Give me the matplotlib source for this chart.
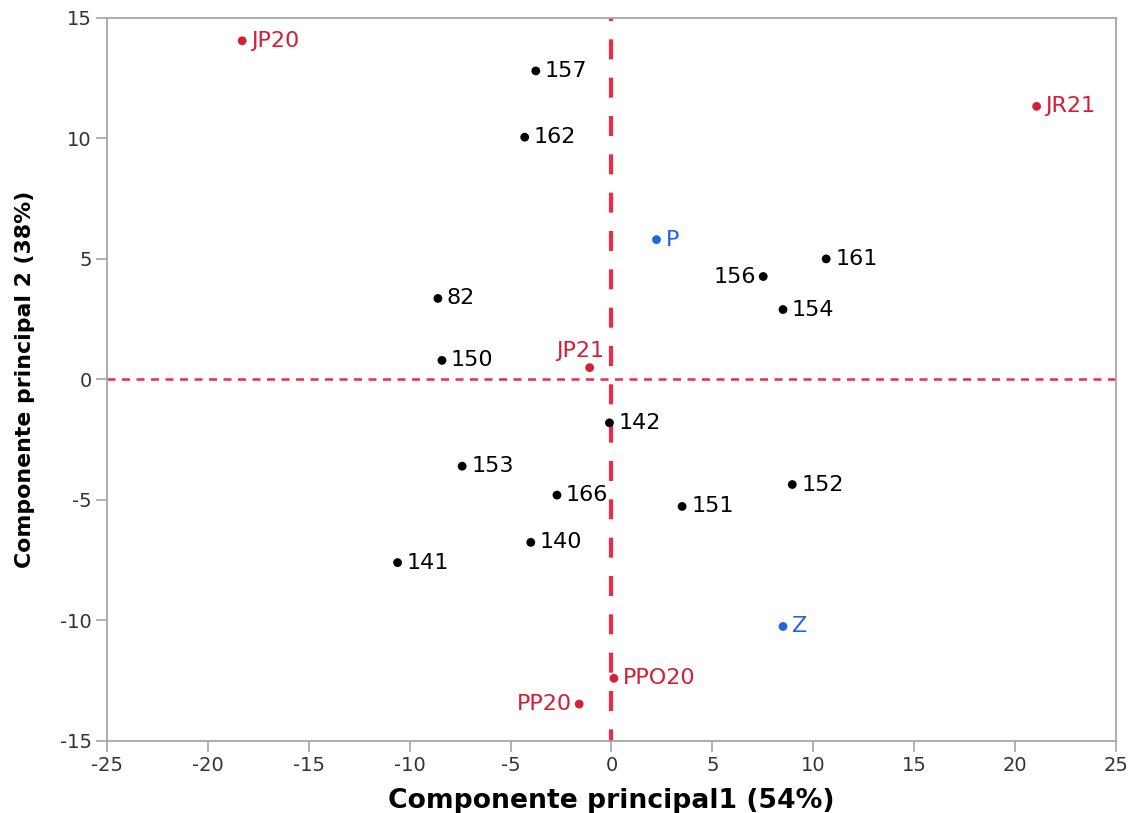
import numpy as np
import matplotlib.pyplot as plt

plt.rcParams['font.family'] = ['DejaVu Sans']
plt.rcParams['axes.unicode_minus'] = False

# Datos de los puntos (componentes principales)
labels = ['JP20', '157', '162', 'JR21', 'P', '161', '156', '154', '82', '150',
          'JP21', '142', '153', '166', '151', '152', '140', '141', 'Z', 'PPO20', 'PP20']
pc1 = [-18.3, -3.75, -4.3, 21.07, 2.23, 10.64, 7.52, 8.5, -8.6, -8.4,
       -1.08, -0.1, -7.4, -2.7, 3.5, 8.96, -4.0, -10.6, 8.5, 0.12, -1.6]
pc2 = [14.05, 12.8, 10.05, 11.33, 5.8, 5.0, 4.27, 2.9, 3.36, 0.79,
       0.49, -1.8, -3.6, -4.8, -5.27, -4.36, -6.76, -7.6, -10.25, -12.4, -13.47]
grupo = ['r', 'k', 'k', 'r', 'b', 'k', 'k', 'k', 'k', 'k',
         'r', 'k', 'k', 'k', 'k', 'k', 'k', 'k', 'b', 'r', 'r']

colores = {'r': '#d41f37', 'k': '#000000', 'b': '#1f66dd'}
# posicion de la etiqueta: derecha, izquierda, arriba-izquierda
pos = {'156': 'left', 'PP20': 'left', 'JP21': 'upleft'}

fig, ax = plt.subplots(figsize=(11.31, 8.13), dpi=100)
fig.subplots_adjust(left=0.0946, right=0.9867, top=0.978, bottom=0.0886)

ax.axvline(0, color='#ee2a44', lw=3, ls=(2, (4.8, 4.4)), zorder=1)
ax.axhline(0, color='#ee2a44', lw=1.8, ls=(0, (3.2, 2.6)), zorder=1)

for lab, x, y, g in zip(labels, pc1, pc2, grupo):
    c = colores[g]
    ax.scatter(x, y, s=40, color=c, zorder=3, edgecolors='none')
    p = pos.get(lab, 'right')
    if p == 'right':
        ax.annotate(lab, (x, y), xytext=(6.5, 0), textcoords='offset points',
                    ha='left', va='center', color=c, fontsize=16)
    elif p == 'left':
        ax.annotate(lab, (x, y), xytext=(-5, 0), textcoords='offset points',
                    ha='right', va='center', color=c, fontsize=16)
    else:
        ax.annotate(lab, (x, y), xytext=(-7, 5), textcoords='offset points',
                    ha='center', va='bottom', color=c, fontsize=16)

ax.set_xlim(-25, 25)
ax.set_ylim(-15, 15)
ax.set_xticks(np.arange(-25, 26, 5))
ax.set_yticks(np.arange(-15, 16, 5))
ax.tick_params(direction='out', length=8, width=1.2, color='#a6a6a6',
               labelsize=14, labelcolor='#333333', pad=3)
for s in ax.spines.values():
    s.set_color('#a6a6a6')
    s.set_linewidth(1.3)

ax.set_xlabel('Componente principal1 (54%)', fontsize=19.2, fontweight='bold', labelpad=9)
ax.set_ylabel('Componente principal 2 (38%)', fontsize=15.8, fontweight='bold', labelpad=18)

plt.savefig('out.png', dpi=100)
